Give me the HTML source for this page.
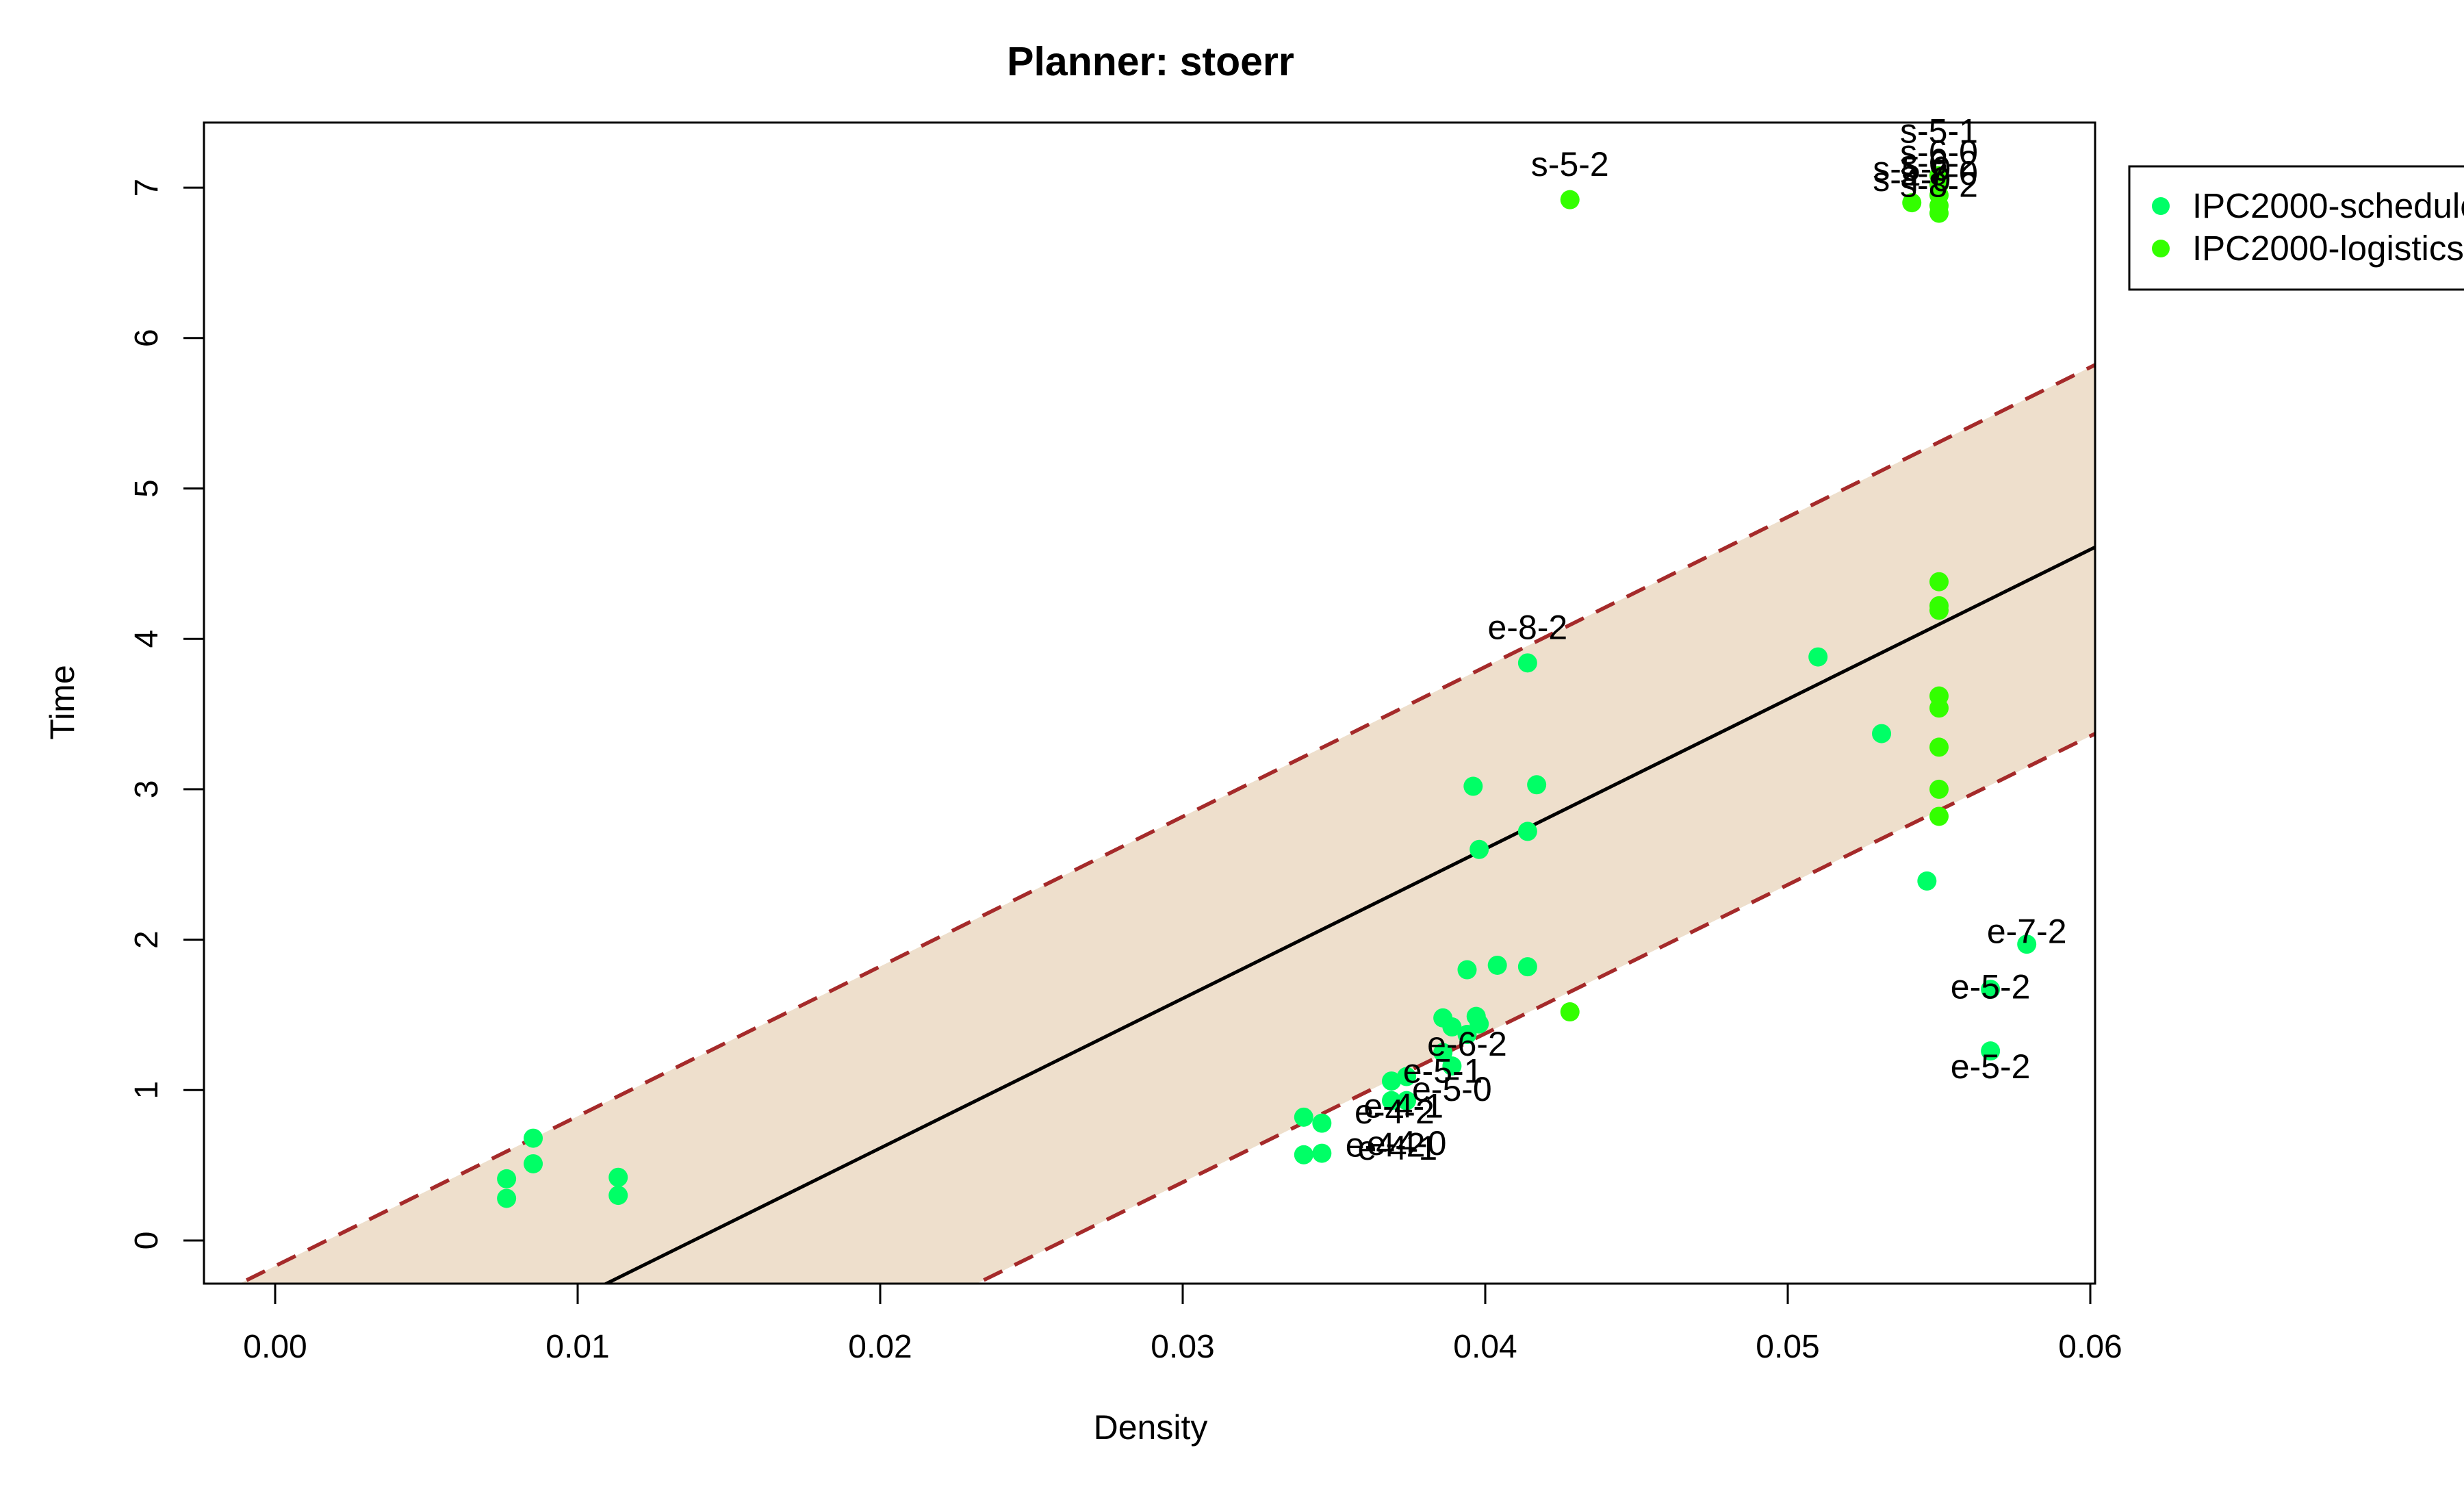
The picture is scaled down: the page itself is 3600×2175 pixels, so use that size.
<!DOCTYPE html>
<html><head><meta charset="utf-8"><style>
html,body{margin:0;padding:0;background:#fff;width:3600px;height:2175px;overflow:hidden}
svg{display:block;font-family:"Liberation Sans",sans-serif}
</style></head><body>
<svg id="chart" width="3600" height="2175" viewBox="0 0 3600 2175" xmlns="http://www.w3.org/2000/svg">
<defs><clipPath id="plotclip"><rect x="298" y="179" width="2763" height="1696"/></clipPath></defs>
<rect x="0" y="0" width="3600" height="2175" fill="#fff"/>
<g id="bandLayer" clip-path="url(#plotclip)"></g>
<g id="pointLayer"></g>
<g id="labelLayer"></g>
<rect x="298" y="179" width="2763" height="1696" fill="none" stroke="#000" stroke-width="3"/>
<g id="axisLayer"></g>
<text x="1681" y="110" text-anchor="middle" font-size="59" font-weight="bold">Planner: stoerr</text>
<text x="1681" y="2102" text-anchor="middle" font-size="50">Density</text>
<text x="0" y="0" transform="translate(108,1026) rotate(-90)" text-anchor="middle" font-size="50">Time</text>
<g>
<rect x="3111" y="243" width="540" height="180" fill="#fff" stroke="#000" stroke-width="3"/>
<circle cx="3157" cy="301" r="13" fill="#00FF66"/>
<text x="3203" y="318" font-size="51">IPC2000-schedule</text>
<circle cx="3157" cy="363" r="13" fill="#33FF00"/>
<text x="3203" y="380" font-size="51">IPC2000-logistics</text>
</g>
</svg>
<script>
const xTicks=[0,0.01,0.02,0.03,0.04,0.05,0.06];
const xTickLabels=["0.00","0.01","0.02","0.03","0.04","0.05","0.06"];
const yTicks=[0,1,2,3,4,5,6,7];
const schedX=[0.00765,0.00765,0.00853,0.00853,0.01134,0.01134,0.0340,0.0340,0.0346,0.0346,0.0369,0.0374,0.0369,0.0374,0.0386,0.0389,0.0394,0.0386,0.0389,0.0397,0.0398,0.0394,0.0404,0.0414,0.0396,0.0417,0.0398,0.0414,0.0414,0.0510,0.0531,0.0546,0.0579,0.0567,0.0567];
const schedY=[0.41,0.28,0.68,0.51,0.42,0.30,0.82,0.57,0.78,0.58,1.06,1.09,0.93,0.93,1.25,1.16,1.37,1.48,1.42,1.49,1.44,1.80,1.83,1.82,3.02,3.03,2.60,2.72,3.84,3.88,3.37,2.39,1.97,1.67,1.26];
const logX=[0.0428,0.0428,0.0541,0.0550,0.0550,0.0550,0.0550,0.0550,0.0550,0.0550,0.0550,0.0550,0.0550,0.0550,0.0550,0.0550];
const logY=[1.52,6.92,6.90,6.83,6.88,6.95,7.02,7.08,4.38,4.22,4.19,3.62,3.54,3.28,3.00,2.82];
const labelText=["s-5-2","e-8-2","e-7-2","e-5-2","e-5-2","s-5-1","s-6-0","s-6-2","s-7-0","s-8-2","s-5-0","s-4-0","e-6-2","e-5-1","e-5-0","e-4-1","e-4-2","e-4-2","e-4-0","e-4-1"];
const labelX=[0.0428,0.0414,0.0579,0.0567,0.0567,0.0550,0.0550,0.0550,0.0550,0.0550,0.0541,0.0541,0.0394,0.0386,0.0389,0.0373,0.0370,0.0367,0.0374,0.0371];
const labelY=[7.16,4.08,2.06,1.69,1.16,7.38,7.24,7.17,7.10,7.02,7.13,7.06,1.31,1.13,1.01,0.90,0.86,0.64,0.65,0.62];
const fitA=[-0.17,-1.376,-2.58];
const fitB=[99.6,99.5,98.9];

const NS="http://www.w3.org/2000/svg";
const X=v=>402+v/0.01*442;
const Y=v=>1812-v*219.7;
function mk(tag,attrs,parent){const e=document.createElementNS(NS,tag);for(const k in attrs)e.setAttribute(k,attrs[k]);parent.appendChild(e);return e;}
const band=document.getElementById('bandLayer'),pts=document.getElementById('pointLayer'),lab=document.getElementById('labelLayer'),ax=document.getElementById('axisLayer');
const x0=-0.005,x1=0.065;
const line=(i,x)=>fitA[i]+fitB[i]*x;
const poly=mk('polygon',{points:`${X(x0)},${Y(line(0,x0))} ${X(x1)},${Y(line(0,x1))} ${X(x1)},${Y(line(2,x1))} ${X(x0)},${Y(line(2,x0))}`,fill:'#EEDFCC'},band);


const lineNames=['upper-bound-line','regression-line','lower-bound-line'];
for(let i=0;i<3;i++){
  const l=mk('line',{x1:X(x0),y1:Y(line(i,x0)),x2:X(x1),y2:Y(line(i,x1)),stroke:i==1?'#000':'#A52A2A','stroke-width':i==1?5:5.5},band);
  if(i!=1)l.setAttribute('stroke-dasharray','30 20');
  
  
}
schedX.forEach((v,i)=>{const c=mk('circle',{cx:X(v),cy:Y(schedY[i]),r:14,fill:'#00FF66'},pts);
  
  });
logX.forEach((v,i)=>{const c=mk('circle',{cx:X(v),cy:Y(logY[i]),r:14,fill:'#33FF00'},pts);
  
  });
labelText.forEach((t,i)=>{const e=mk('text',{x:X(labelX[i]),y:Y(labelY[i])+18,'text-anchor':'middle','font-size':50},lab);e.textContent=t;
  
  });
xTicks.forEach((v,i)=>{const l=mk('line',{x1:X(v),y1:1875,x2:X(v),y2:1905,stroke:'#000','stroke-width':3},ax);
  
  
  const t=mk('text',{x:X(v),y:1983,'text-anchor':'middle','font-size':48},ax);t.textContent=xTickLabels[i];
  
  });
const xa=mk('line',{x1:X(0),y1:1875,x2:X(0.06),y2:1875,stroke:'#000','stroke-width':3},ax);


yTicks.forEach(v=>{const l=mk('line',{x1:268,y1:Y(v),x2:298,y2:Y(v),stroke:'#000','stroke-width':3},ax);
  
  
  const t=mk('text',{x:0,y:0,transform:`translate(230,${Y(v)}) rotate(-90)`,'text-anchor':'middle','font-size':48},ax);t.textContent=String(v);
  
  });
const ya=mk('line',{x1:298,y1:Y(0),x2:298,y2:Y(7),stroke:'#000','stroke-width':3},ax);


</script>
</body></html>
